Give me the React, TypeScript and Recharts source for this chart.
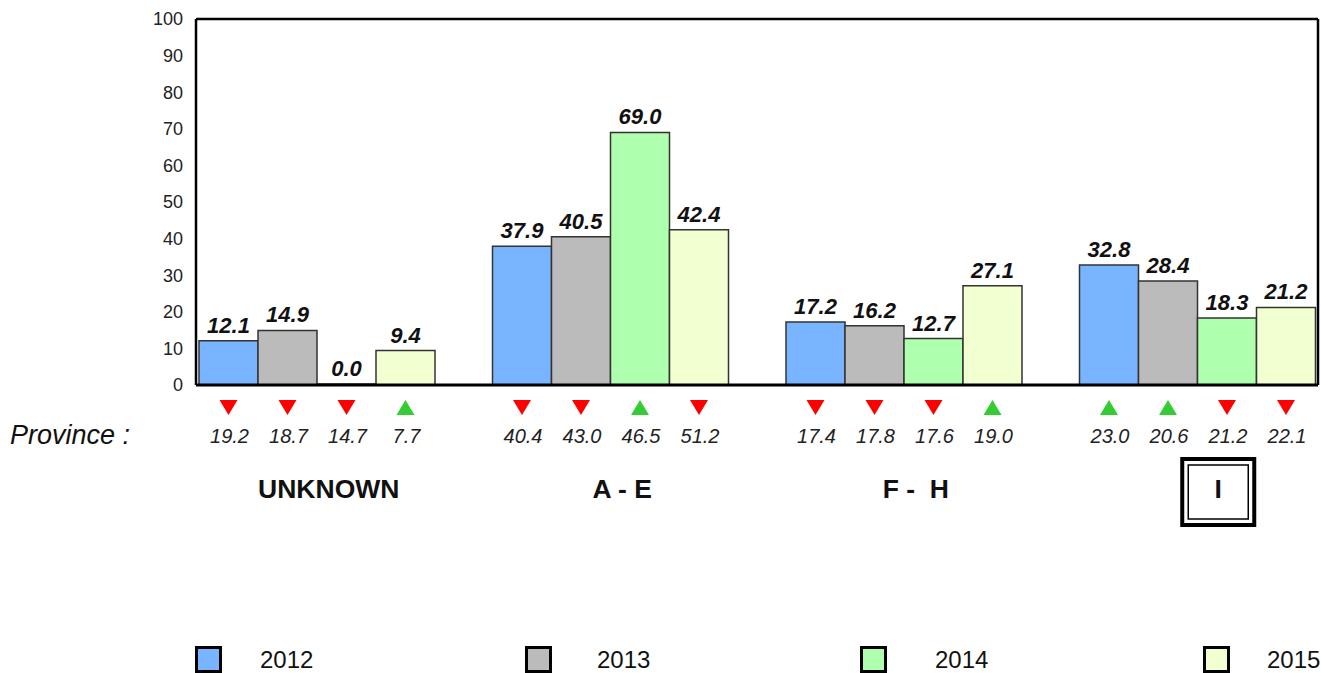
import React from "react";
import { BarChart, Bar, XAxis, YAxis, Legend, LabelList, CartesianGrid } from "recharts";

const CATEGORIES = ["UNKNOWN", "A - E", "F -  H", "I"];
const HIGHLIGHT = "I";
const YEARS = ["2012", "2013", "2014", "2015"];
const Y_TICKS = [0, 10, 20, 30, 40, 50, 60, 70, 80, 90, 100];

// current values per year
const V2012 = [12.1, 37.9, 17.2, 32.8];
const V2013 = [14.9, 40.5, 16.2, 28.4];
const V2014 = [0.0, 69.0, 12.7, 18.3];
const V2015 = [9.4, 42.4, 27.1, 21.2];

// comparison values shown under the axis
const P2012 = [19.2, 40.4, 17.4, 23.0];
const P2013 = [18.7, 43.0, 17.8, 20.6];
const P2014 = [14.7, 46.5, 17.6, 21.2];
const P2015 = [7.7, 51.2, 19.0, 22.1];

const COLOURS = ["#78B4FF", "#BBBBBB", "#AEFFAE", "#F2FFD0"];
const FONT = "'Liberation Sans', Arial, sans-serif";

// legend layout (square left edge, text left edge)
const LEGEND_BOX_X = [195, 525, 860, 1203];
const LEGEND_TEXT_X = [260, 597, 935, 1267];

const data = CATEGORIES.map((name, i) => ({
  name,
  y2012: V2012[i],
  y2013: V2013[i],
  y2014: V2014[i],
  y2015: V2015[i],
}));

const SERIES = [
  { key: "y2012", values: V2012, prior: P2012 },
  { key: "y2013", values: V2013, prior: P2013 },
  { key: "y2014", values: V2014, prior: P2014 },
  { key: "y2015", values: V2015, prior: P2015 },
];

function makeLabel(values: number[], prior: number[]) {
  return (props: any) => {
    const { x, y, width, height, index } = props;
    const cx = x + width / 2;
    const base = y + height;
    const cur = values[index];
    const prev = prior[index];
    const down = cur < prev;
    const tri = down
      ? `${cx - 9},${base + 15} ${cx + 9},${base + 15} ${cx},${base + 30}`
      : `${cx - 9},${base + 30} ${cx + 9},${base + 30} ${cx},${base + 15}`;
    return (
      <g>
        <text
          x={cx}
          y={y - 8}
          textAnchor="middle"
          fontFamily={FONT}
          fontSize={22}
          fontWeight="bold"
          fontStyle="italic"
          fill="#111"
        >
          {cur.toFixed(1)}
        </text>
        <polygon points={tri} fill={down ? "#FF0000" : "#33CC33"} />
        <text
          x={cx + 1}
          y={base + 58}
          textAnchor="middle"
          fontFamily={FONT}
          fontSize={20}
          fontStyle="italic"
          fill="#222"
        >
          {prev.toFixed(1)}
        </text>
      </g>
    );
  };
}

function CategoryTick(props: any) {
  const { x, y, payload, index } = props;
  const isHi = payload.value === HIGHLIGHT;
  const cx = x + (isHi ? 21 : 12);
  return (
    <g>
      {index === 0 && (
        <text x={10} y={y + 59} fontFamily={FONT} fontSize={27} fontStyle="italic" fill="#111">
          Province :
        </text>
      )}
      {isHi && (
        <>
          <rect x={cx - 36} y={y + 74} width={72} height={66} fill="none" stroke="#000" strokeWidth={4} />
          <rect x={cx - 30} y={y + 80} width={60} height={54} fill="none" stroke="#000" strokeWidth={1.5} />
        </>
      )}
      <text
        x={cx}
        y={y + 113}
        textAnchor="middle"
        fontFamily={FONT}
        fontSize={26.5}
        fontWeight="bold"
        fill="#111"
        style={{ whiteSpace: "pre" }}
      >
        {payload.value}
      </text>
    </g>
  );
}

function LegendBox() {
  return (
    <div style={{ height: 48, position: "relative", fontFamily: FONT }}>
      {YEARS.map((yr, i) => (
        <React.Fragment key={yr}>
          <div
            style={{
              position: "absolute",
              left: LEGEND_BOX_X[i],
              top: 21,
              width: 27,
              height: 27,
              boxSizing: "border-box",
              border: "3.5px solid #000",
              background: COLOURS[i],
            }}
          />
          <span
            style={{
              position: "absolute",
              left: LEGEND_TEXT_X[i],
              top: 21,
              fontSize: 24,
              lineHeight: "27px",
              color: "#111",
            }}
          >
            {yr}
          </span>
        </React.Fragment>
      ))}
    </div>
  );
}

export default function App() {
  return (
    <div style={{ width: 1321, height: 673, background: "#fff" }}>
      <style>{`body { margin: 0; overflow: hidden; }`}</style>
      <BarChart
        width={1321}
        height={673}
        data={data}
        margin={{ top: 19, right: 3, bottom: 0, left: 0 }}
        barGap={0}
        barCategoryGap={29}
      >
        {/* top and right edges of the plot frame */}
        <CartesianGrid
          stroke="#000"
          strokeWidth={2.5}
          horizontalCoordinatesGenerator={({ offset }: any) => [offset.top]}
          verticalCoordinatesGenerator={({ offset }: any) => [offset.left + offset.width]}
        />
        <XAxis
          dataKey="name"
          height={240}
          padding={{ left: -26, right: -26 }}
          tickLine={false}
          tickSize={0}
          tickMargin={0}
          axisLine={{ stroke: "#000", strokeWidth: 3 }}
          tick={<CategoryTick />}
          interval={0}
        />
        <YAxis
          width={196}
          domain={[0, 100]}
          ticks={Y_TICKS}
          interval={0}
          tickLine={false}
          tickSize={0}
          tickMargin={13}
          axisLine={{ stroke: "#000", strokeWidth: 2.5 }}
          tick={{ fill: "#222", fontSize: 18, fontFamily: FONT }}
        />
        <Legend verticalAlign="bottom" wrapperStyle={{ left: 0, width: 1321, bottom: 0 }} content={<LegendBox />} />
        {SERIES.map((s, i) => (
          <Bar
            key={s.key}
            dataKey={s.key}
            name={YEARS[i]}
            fill={COLOURS[i]}
            stroke="#333"
            strokeWidth={1.5}
            minPointSize={1}
            isAnimationActive={false}
          >
            <LabelList dataKey={s.key} content={makeLabel(s.values, s.prior)} />
          </Bar>
        ))}
      </BarChart>
    </div>
  );
}
